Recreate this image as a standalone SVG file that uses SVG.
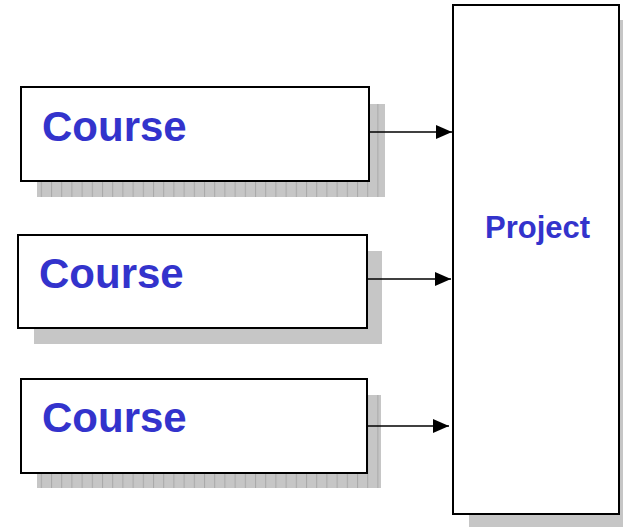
<svg xmlns="http://www.w3.org/2000/svg" width="623" height="527" viewBox="0 0 623 527">
  <style>
    .box { fill: #ffffff; stroke: #000000; stroke-width: 2; }
    .shadow { fill: #c6c6c6; }
    .ruled { fill: url(#rules); }
    .label { font-family: "Liberation Sans", Arial, sans-serif; font-weight: bold; fill: #3333cc; }
    .link { stroke: #000000; stroke-width: 1.6; fill: none; marker-end: url(#head); }
  </style>
  <defs>
    <pattern id="rules" x="0" y="0" width="10.2" height="4" patternUnits="userSpaceOnUse">
      <rect width="10.2" height="4" fill="#c6c6c6"/>
      <rect x="0" width="1" height="4" fill="#a9a9a9"/>
    </pattern>
    <marker id="head" viewBox="0 0 16 14" refX="16" refY="7" markerWidth="16" markerHeight="14" markerUnits="userSpaceOnUse" orient="auto">
      <path d="M0,0 L16,7 L0,14 Z" fill="#000000"/>
    </marker>
  </defs>

  <g id="course1">
    <rect class="ruled" x="37" y="104" width="348" height="93"/>
    <rect class="box" x="21" y="87" width="348" height="94"/>
    <text class="label" x="42" y="141" font-size="42">Course</text>
  </g>

  <g id="course2">
    <rect class="shadow" x="34" y="251" width="348" height="93"/>
    <rect class="box" x="18" y="235" width="349" height="93"/>
    <text class="label" x="39" y="288" font-size="42">Course</text>
  </g>

  <g id="course3">
    <rect class="ruled" x="37" y="395" width="344" height="93"/>
    <rect class="box" x="21" y="379" width="346" height="94"/>
    <text class="label" x="42" y="432" font-size="42">Course</text>
  </g>

  <g id="project">
    <rect class="shadow" x="469" y="20" width="160" height="510"/>
    <rect class="box" x="453" y="5" width="166" height="509"/>
    <text class="label" x="485" y="238" font-size="31">Project</text>
  </g>

  <!-- connectors, drawn over the shadows -->
  <g id="connectors">
    <line class="link" x1="369" y1="132" x2="452" y2="132"/>
    <line class="link" x1="367" y1="279" x2="451" y2="279"/>
    <line class="link" x1="367" y1="426" x2="449" y2="426"/>
  </g>
</svg>
